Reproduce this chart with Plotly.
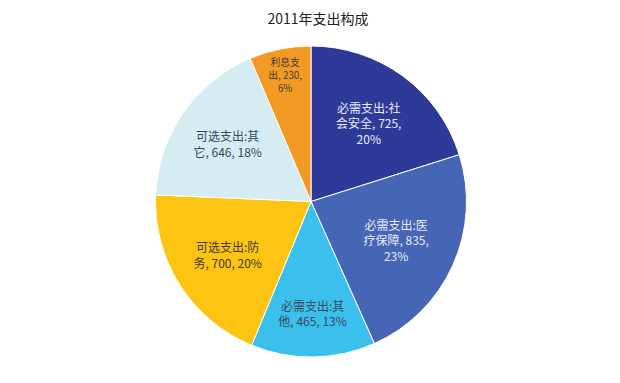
import plotly.graph_objects as go

labels = ["必需支出:社会安全", "必需支出:医疗保障", "必需支出:其他",
          "可选支出:防务", "可选支出:其它", "利息支出"]
values = [725, 835, 465, 700, 646, 230]
percents = ["20%", "23%", "13%", "20%", "18%", "6%"]
label_lines = ["必需支出:社<br>会安全, 725,<br>20%",
               "必需支出:医<br>疗保障, 835,<br>23%",
               "必需支出:其<br>他, 465, 13%",
               "可选支出:防<br>务, 700, 20%",
               "可选支出:其<br>它, 646, 18%",
               "利息支<br>出, 230,<br>6%"]
colors = ["#2E3A97", "#4565B5", "#3BBFEC", "#FDC511", "#D5ECF3", "#F39A25"]
text_colors = ["#E8ECF8", "#E8ECF8", "#3A4A5A", "#3A3A3A", "#3A4A55", "#3A3A3A"]

fig = go.Figure(go.Pie(
    labels=labels,
    values=values,
    text=label_lines,
    textinfo="text",
    textposition="inside",
    insidetextorientation="horizontal",
    insidetextfont=dict(family="Noto Sans CJK SC", size=12, color=text_colors),
    marker=dict(colors=colors, line=dict(color="white", width=1)),
    sort=False,
    direction="clockwise",
    rotation=0,
    hoverinfo="skip",
    showlegend=False,
))

fig.update_layout(
    width=620, height=383,
    margin=dict(l=0, r=14, t=38, b=34),
    paper_bgcolor="white",
    title=dict(text="2011年支出构成", x=0.5, xanchor="center", y=0.971, yanchor="middle",
               font=dict(family="Noto Sans CJK SC", size=14, color="#222222")),
)

fig.write_html("out.html")
